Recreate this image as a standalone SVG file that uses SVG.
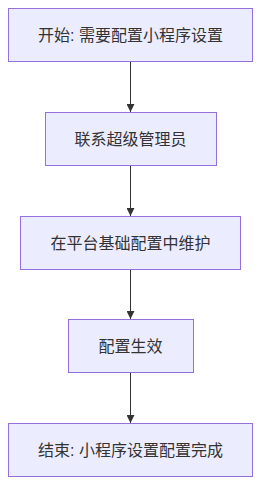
<svg xmlns="http://www.w3.org/2000/svg" width="261" height="486" viewBox="0 0 261 486">
<style>
.node rect{fill:#ECECFF;stroke:#9370DB;stroke-width:1}
.node text{font-family:"Liberation Sans","Noto Sans CJK SC",sans-serif;font-size:16px;fill:#333;text-anchor:middle;dominant-baseline:central}
.edge{stroke:#333;stroke-width:1;fill:none}
</style>
<defs>
<marker id="arr" viewBox="0 0 10 10" refX="10" refY="5" markerWidth="8" markerHeight="8" markerUnits="userSpaceOnUse" orient="auto">
<path d="M0,0 L10,5 L0,10 z" fill="#333"/>
</marker>
</defs>
<rect width="261" height="486" fill="#fff"/>
<g id="edges">
<path class="edge" d="M130.5,62 V112" marker-end="url(#arr)"/>
<path class="edge" d="M130.5,166 V216" marker-end="url(#arr)"/>
<path class="edge" d="M130.5,270 V319" marker-end="url(#arr)"/>
<path class="edge" d="M130.5,373 V423" marker-end="url(#arr)"/>
</g>
<g id="n1" class="node"><rect x="8.5" y="8.5" width="244" height="53"/><text x="130.5" y="35">开始: 需要配置小程序设置</text></g>
<g id="n2" class="node"><rect x="45.5" y="112.5" width="171" height="53"/><text x="130.5" y="139">联系超级管理员</text></g>
<g id="n3" class="node"><rect x="20.5" y="216.5" width="220" height="53"/><text x="130.5" y="243">在平台基础配置中维护</text></g>
<g id="n4" class="node"><rect x="68.5" y="319.5" width="125" height="53"/><text x="130.5" y="346">配置生效</text></g>
<g id="n5" class="node"><rect x="8.5" y="423.5" width="244" height="53"/><text x="130.5" y="450">结束: 小程序设置配置完成</text></g>
</svg>
